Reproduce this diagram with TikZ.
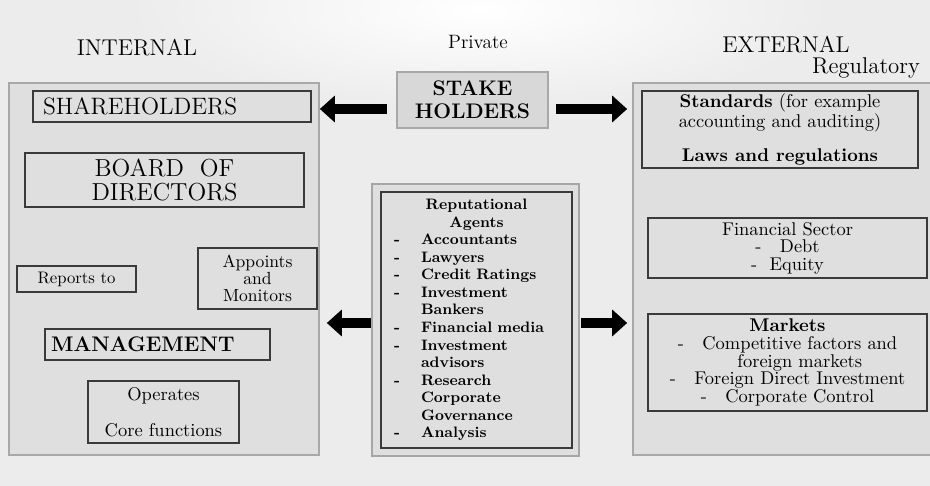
\documentclass[tikz,border=0pt]{standalone}
\usepackage{xcolor}
\usepackage{tikz}
\usetikzlibrary{arrows.meta}
\definecolor{bggray}{HTML}{ECECEC}
\definecolor{panelgray}{HTML}{DFDFDF}
\definecolor{panelline}{HTML}{A8A8A8}
\definecolor{boxline}{HTML}{3A3A3A}
\definecolor{stakegray}{HTML}{D8D8D8}
\newcommand{\agentitem}[1]{\makebox[0.54cm][l]{-}#1}
\newcommand{\agentmore}[1]{\hspace*{0.54cm}#1}
\tikzset{
panelnode/.style={rectangle, draw=panelline, fill=panelgray, line width=1pt, inner sep=0pt},
boxnodev1/.style={rectangle, draw=boxline, fill=panelgray, line width=0.8pt, inner sep=0pt, align=center, font=\fontsize{10}{10}\selectfont},
boxnodev2/.style={rectangle, draw=boxline, fill=panelgray, line width=0.8pt, inner sep=0pt, align=center, font=\fontsize{10.5}{10}\selectfont},
stakenode/.style={rectangle, draw=panelline, fill=stakegray, line width=1pt, inner sep=0pt, align=center, font=\fontsize{12}{13}\selectfont\bfseries},
headtext/.style={inner sep=0pt, font=\fontsize{13}{13}\selectfont},
bigarrow/.style={line width=0.21cm, -{Triangle[length=0.3cm,width=0.52cm]}},
}
\begin{document}
\begin{tikzpicture}[x=0.02cm,y=-0.02cm]
    \useasboundingbox (0,0) rectangle (930,486);
    \fill[bggray] (0,0) rectangle (930,486);
    \shade[inner color=white, outer color=bggray] (480,10) ellipse (7cm and 2cm);
    % headings
    \node[headtext] at (137,48) (inthead) {INTERNAL};
    \node[headtext, font=\fontsize{11}{11}\selectfont] at (478,42) (privhead) {Private};
    \node[headtext] at (786,45) (exthead) {EXTERNAL};
    \node[headtext] at (866,68) (reghead) {Regulatory};
    % internal side
    \node[panelnode, minimum width=6.2cm, minimum height=7.44cm] at (164,269) (internal) {};
    \node[boxnodev1, minimum width=5.56cm, minimum height=0.62cm, text width=5.16cm, inner xsep=0.2cm, align=left, font=\fontsize{13.5}{13.5}\selectfont] at (172,106.5) (share) {SHAREHOLDERS};
    \node[boxnodev1, minimum width=5.58cm, minimum height=1.08cm, font=\fontsize{14}{13.5}\selectfont] at (164.5,180) (board) {BOARD\ \ OF\\DIRECTORS};
    \node[boxnodev1, minimum width=2.38cm, minimum height=0.52cm, font=\fontsize{9.5}{10}\selectfont] at (76.5,279) (reports) {Reports to};
    \node[boxnodev1, minimum width=2.38cm, minimum height=1.22cm, font=\fontsize{10}{9.8}\selectfont] at (257.5,278.5) (appoints) {Appoints\\and\\Monitors};
    \node[boxnodev1, minimum width=4.5cm, minimum height=0.62cm, text width=4.26cm, inner xsep=0.12cm, align=left, font=\fontsize{12}{12}\selectfont\bfseries] at (157.5,344.5) (manage) {MANAGEMENT};
    \node[boxnodev1, minimum width=3.02cm, minimum height=1.24cm, font=\fontsize{10.5}{10}\selectfont] at (163.5,412) (operates) {Operates\\[0.37cm]Core functions};
    % stake holders and agents
    \node[stakenode, minimum width=3.02cm, minimum height=1.12cm] at (472.5,100) (stake) {STAKE\\HOLDERS};
    \node[panelnode, draw=gray!70, minimum width=4.14cm, minimum height=5.44cm] at (475.5,320) (agentsout) {};
    \node[boxnodev1, minimum width=3.82cm, minimum height=5.12cm, text width=3.3cm, align=left, font=\fontsize{8.6}{10}\selectfont\bfseries] at (476.5,320) (agents) {\makebox[3.3cm]{Reputational}\\\makebox[3.3cm]{Agents}\\
        \agentitem{Accountants}\\\agentitem{Lawyers}\\\agentitem{Credit Ratings}\\\agentitem{Investment}\\\agentmore{Bankers}\\
        \agentitem{Financial media}\\\agentitem{Investment}\\\agentmore{advisors}\\\agentitem{Research}\\\agentmore{Corporate}\\
        \agentmore{Governance}\\\agentitem{Analysis}};
    % external side
    \node[panelnode, minimum width=6.06cm, minimum height=7.44cm] at (784.5,269) (external) {};
    \node[boxnodev2, minimum width=5.52cm, minimum height=1.54cm, font=\fontsize{10.5}{11.4}\selectfont] at (780,129.5) (standards) {\textbf{Standards} (for example\\accounting and auditing)\\[0.28cm]\textbf{Laws and regulations}};
    \node[boxnodev2, minimum width=5.58cm, minimum height=1.2cm] at (787.5,248) (finance) {Financial Sector\\-\quad Debt\\- \ Equity};
    \node[boxnodev2, minimum width=5.58cm, minimum height=1.94cm] at (787.5,362.5) (markets) {\textbf{Markets}\\-\quad Competitive factors and\\\ \ \ \ foreign markets\\-\quad Foreign Direct Investment\\-\quad Corporate Control};
    % arrows
    \coordinate (tl) at ([yshift=-0.18cm]stake.west);
    \coordinate (tr) at ([yshift=-0.18cm]stake.east);
    \coordinate (ml) at ([yshift=-0.06cm]agentsout.west);
    \coordinate (mr) at ([yshift=-0.06cm]agentsout.east);
    \draw[bigarrow, shorten <=0.18cm] (tl) -- (tl -| internal.east);
    \draw[bigarrow, shorten <=0.14cm, shorten >=0.1cm] (tr) -- (tr -| external.west);
    \draw[bigarrow, shorten >=0.14cm] (ml) -- (ml -| internal.east);
    \draw[bigarrow, shorten <=0.02cm, shorten >=0.1cm] (mr) -- (mr -| external.west);
\end{tikzpicture}
\end{document}
